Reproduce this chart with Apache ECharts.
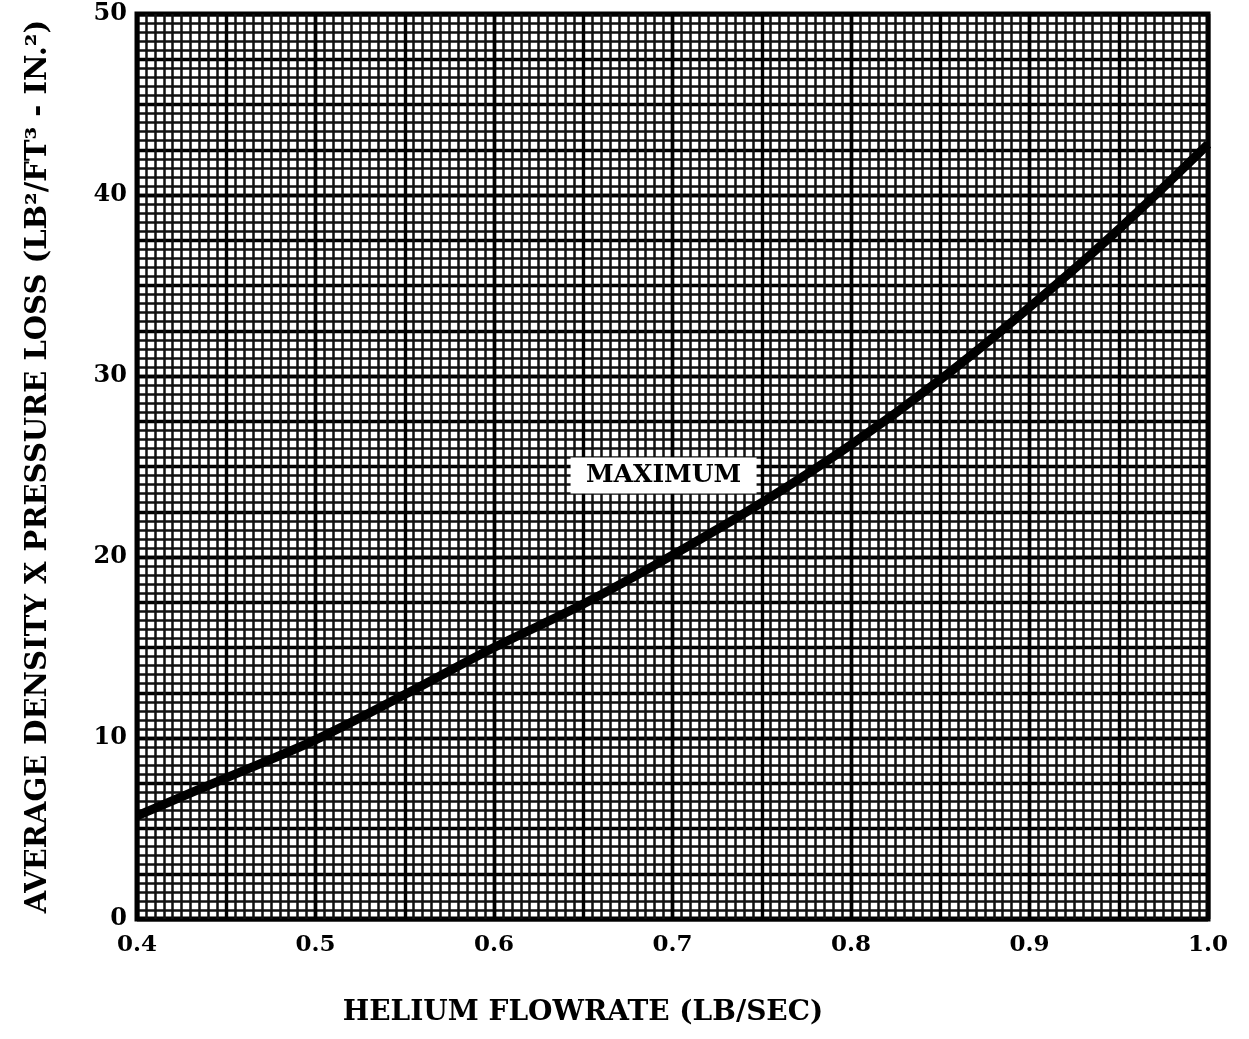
<!DOCTYPE html>
<html>
<head>
<meta charset="utf-8">
<script src="https://cdn.jsdelivr.net/npm/echarts@6/dist/echarts.min.js"></script>
<style>
html,body{margin:0;padding:0;background:#fff;}
#chart{width:1249px;height:1039px;}
</style>
</head>
<body>
<div id="chart"></div>
<script>
const flowrate = [0.40, 0.45, 0.50, 0.55, 0.60, 0.65, 0.70, 0.75, 0.80, 0.85, 0.90, 0.95, 1.00];
const maximumLoss = [5.7, 7.8, 9.9, 12.4, 15.0, 17.4, 20.1, 23.0, 26.2, 29.8, 33.8, 38.1, 42.8];
const annotationText = 'MAXIMUM';
const annotationAt = [0.695, 24.5];
const xTitle = 'HELIUM FLOWRATE (LB/SEC)';
const yTitle = 'AVERAGE DENSITY X PRESSURE LOSS (LB\u00B2/FT\u00B3 - IN.\u00B2)';

const FONT = '"DejaVu Serif", "Liberation Serif", serif';
const chart = echarts.init(document.getElementById('chart'), null, {renderer: 'canvas'});

const gridBox = {left: 137, right: 41, top: 14, bottom: 120};
const fine = {show: true, lineStyle: {color: '#111', width: 2.5}};
const heavy = {show: true, lineStyle: {color: '#000', width: 3.4}};

chart.setOption({
  backgroundColor: '#fff',
  animation: false,
  grid: Object.assign({show: true, borderColor: '#000', borderWidth: 5, backgroundColor: '#fff'}, gridBox),
  xAxis: [
    {
      type: 'value', min: 0.4, max: 1.0, interval: 0.1,
      axisLine: {show: false}, axisTick: {show: false},
      axisLabel: {
        formatter: v => v.toFixed(1),
        color: '#000', fontFamily: FONT, fontWeight: 'bold', fontSize: 23, margin: 15
      },
      splitLine: heavy,
      minorTick: {show: false, splitNumber: 20},
      minorSplitLine: fine,
      name: xTitle, nameLocation: 'middle', nameGap: 80,
      nameTextStyle: {color: '#000', fontFamily: FONT, fontWeight: 'bold', fontSize: 28,
                      padding: [0, 179, 0, 0]}
    },
    {
      type: 'value', min: 0.4, max: 1.0, interval: 0.05,
      axisLine: {show: false}, axisTick: {show: false}, axisLabel: {show: false},
      splitLine: heavy
    }
  ],
  yAxis: [
    {
      type: 'value', min: 0, max: 50, interval: 10,
      axisLine: {show: false}, axisTick: {show: false},
      axisLabel: {
        color: '#000', fontFamily: FONT, fontWeight: 'bold', fontSize: 24, margin: 10
      },
      splitLine: heavy,
      minorTick: {show: false, splitNumber: 20},
      minorSplitLine: fine,
      name: yTitle, nameLocation: 'middle', nameGap: 84, nameRotate: 90,
      nameTextStyle: {color: '#000', fontFamily: FONT, fontWeight: 'bold', fontSize: 29}
    },
    {
      type: 'value', min: 0, max: 50, interval: 2.5,
      axisLine: {show: false}, axisTick: {show: false}, axisLabel: {show: false},
      splitLine: heavy
    }
  ],
  series: [
    {
      type: 'line',
      xAxisIndex: 0, yAxisIndex: 0,
      data: flowrate.map((x, i) => [x, maximumLoss[i]]),
      smooth: 0.35,
      symbol: 'none',
      lineStyle: {color: '#000', width: 9},
      z: 5,
      markPoint: {
        symbol: 'rect',
        symbolSize: [186, 36],
        itemStyle: {color: '#fff'},
        label: {
          show: true, position: 'inside', formatter: annotationText,
          color: '#000', fontFamily: FONT, fontWeight: 'bold', fontSize: 25
        },
        data: [{coord: annotationAt}]
      }
    }
  ]
});
</script>
</body>
</html>
